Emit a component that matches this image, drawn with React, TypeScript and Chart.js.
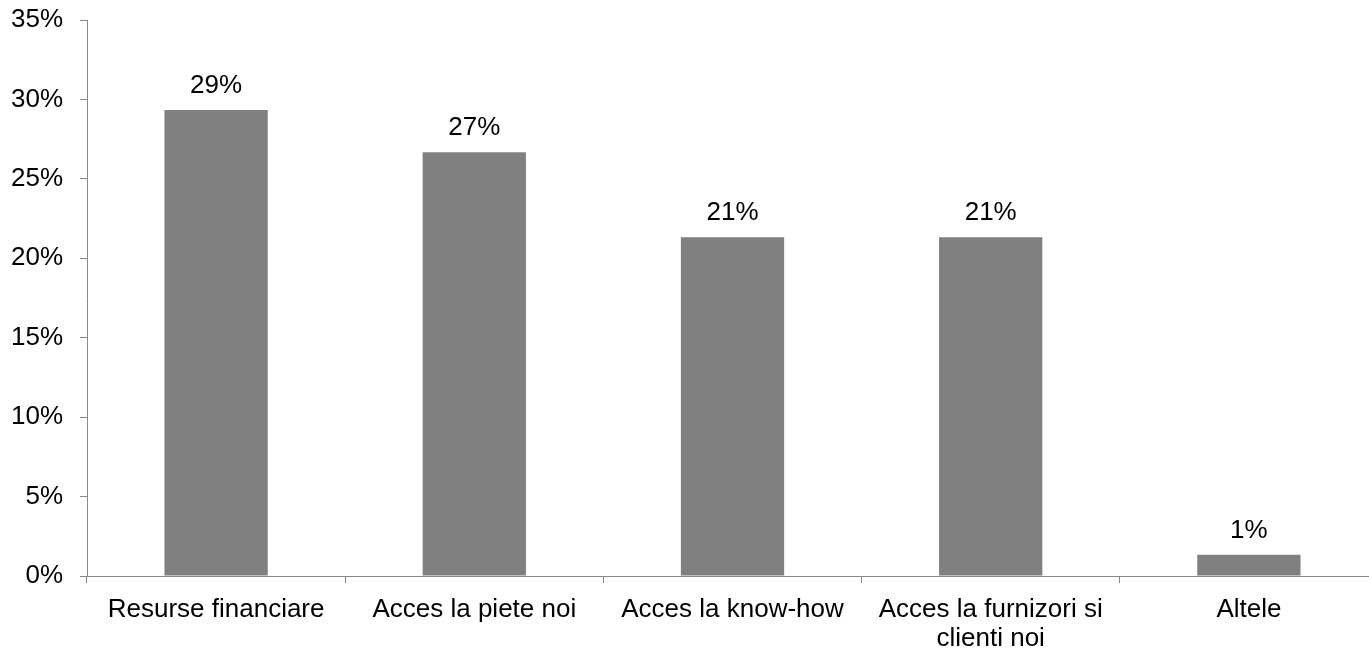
import React, { useEffect, useRef } from "react";
import { Chart, registerables } from "chart.js";

Chart.register(...registerables);

const categories: (string | string[])[] = [
  "Resurse financiare",
  "Acces la piete noi",
  "Acces la know-how",
  ["Acces la furnizori si", "clienti noi"],
  "Altele",
];
const values: number[] = [29.33, 26.67, 21.33, 21.33, 1.33];
const yTicks: number[] = [0, 5, 10, 15, 20, 25, 30, 35];

const FONT = "'Liberation Sans', Arial, Helvetica, sans-serif";
const AXIS = "#888888";

const valueLabels = {
  id: "valueLabels",
  afterDatasetsDraw(chart: any) {
    const ctx = chart.ctx;
    const meta = chart.getDatasetMeta(0);
    ctx.save();
    ctx.font = `26px ${FONT}`;
    ctx.fillStyle = "#000";
    ctx.textAlign = "center";
    ctx.textBaseline = "alphabetic";
    meta.data.forEach((bar: any, i: number) => {
      ctx.fillText(Math.round(values[i]) + "%", bar.x, bar.y - 17);
    });
    ctx.restore();
  },
};

export default function App() {
  const ref = useRef<HTMLCanvasElement | null>(null);
  useEffect(() => {
    if (!ref.current) return;
    const chart = new Chart(ref.current, {
      type: "bar",
      data: {
        labels: categories,
        datasets: [
          {
            data: values,
            backgroundColor: "#808080",
            borderWidth: 0,
            barPercentage: 0.4,
            categoryPercentage: 1,
          },
        ],
      },
      options: {
        responsive: false,
        animation: false,
        devicePixelRatio: 1,
        layout: { padding: { top: 20, right: 2, left: 0, bottom: 0 } },
        plugins: { legend: { display: false }, tooltip: { enabled: false } },
        scales: {
          x: {
            offset: true,
            grid: {
              offset: true,
              drawOnChartArea: false,
              drawTicks: true,
              tickLength: 7,
              color: AXIS,
            },
            border: { display: true, color: AXIS, width: 1 },
            ticks: {
              color: "#000",
              font: { family: FONT, size: 26, lineHeight: 1.12 },
              padding: 12,
              maxRotation: 0,
              autoSkip: false,
            },
            afterFit: (s: any) => {
              s.height = 75;
              s.paddingLeft = 0;
              s.paddingRight = 0;
            },
          },
          y: {
            min: 0,
            max: 35,
            afterBuildTicks: (s: any) => {
              s.ticks = yTicks.map((v) => ({ value: v }));
            },
            grid: {
              drawOnChartArea: false,
              drawTicks: true,
              tickLength: 7,
              color: AXIS,
            },
            border: { display: true, color: AXIS, width: 1 },
            ticks: {
              color: "#000",
              font: { family: FONT, size: 26 },
              padding: 17,
              callback: (v: any) => v + "%",
            },
            afterFit: (s: any) => {
              s.width = 87;
              s.paddingTop = 0;
              s.paddingBottom = 0;
            },
          },
        },
      },
      plugins: [valueLabels],
    });
    return () => chart.destroy();
  }, []);

  return (
    <div
      style={{
        position: "absolute",
        left: 0,
        top: 0,
        width: 1369,
        height: 651,
        overflow: "hidden",
        background: "#fff",
      }}
    >
      <canvas ref={ref} width={1380} height={651} />
    </div>
  );
}
